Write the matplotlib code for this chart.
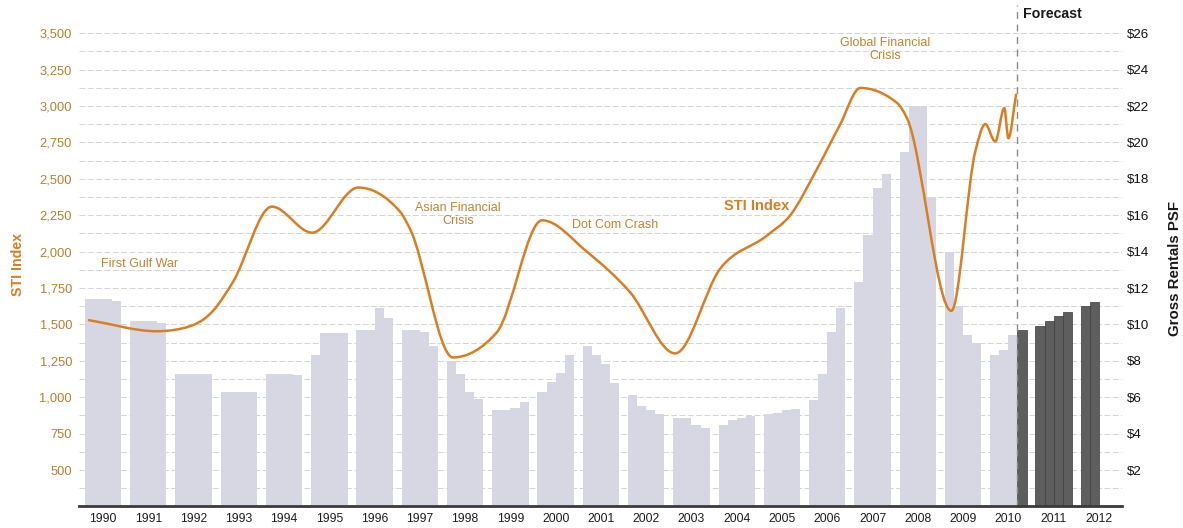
import matplotlib
matplotlib.use('Agg')
import matplotlib.pyplot as plt
from matplotlib.path import Path
from matplotlib.patches import PathPatch
from matplotlib.transforms import blended_transform_factory
import numpy as np

plt.rcParams['font.family'] = ['Liberation Sans', 'DejaVu Sans']

# Quarterly gross rentals ($ psf), one list per year
years = list(range(1990, 2013))
rentals = {
    1990: [11.4, 11.4, 11.4, 11.3],
    1991: [10.2, 10.2, 10.2, 10.1],
    1992: [7.3, 7.3, 7.3, 7.3],
    1993: [6.3, 6.3, 6.3, 6.3],
    1994: [7.3, 7.3, 7.3, 7.2],
    1995: [8.3, 9.55, 9.55, 9.55],
    1996: [9.7, 9.7, 10.9, 10.35],
    1997: [9.7, 9.7, 9.6, 8.8],
    1998: [8.0, 7.3, 6.3, 5.9],
    1999: [5.3, 5.3, 5.4, 5.75],
    2000: [6.3, 6.85, 7.35, 8.3],
    2001: [8.8, 8.3, 7.8, 6.8],
    2002: [6.1, 5.5, 5.3, 5.1],
    2003: [4.85, 4.85, 4.5, 4.3],
    2004: [4.5, 4.75, 4.85, 4.95],
    2005: [5.1, 5.15, 5.3, 5.35],
    2006: [5.85, 7.3, 9.6, 10.9],
    2007: [12.35, 14.9, 17.5, 18.25],
    2008: [19.5, 22.0, 22.0, 17.0],
    2009: [14.0, 11.0, 9.4, 9.0],
    2010: [8.3, 8.6, 9.4, 9.7],
    2011: [9.9, 10.2, 10.45, 10.7],
    2012: [11.0, 11.25],
}
# first forecast quarter (year, quarter index)
forecast_start = (2010, 3)

# STI index points
sti_x = [1989.69, 1991.19, 1991.77, 1992.43, 1992.87, 1993.73, 1994.62, 1995.64,
         1996.56, 1996.78, 1997.73, 1998.70, 1999.70, 2000.69, 2001.64, 2002.64,
         2003.63, 2004.67, 2005.18, 2005.78, 2006.28, 2006.73, 2007.54, 2007.76,
         2008.74, 2009.27, 2009.49, 2009.71, 2009.91, 2010.00, 2010.17]
sti_y = [1529, 1453, 1474, 1593, 1791, 2309, 2130, 2440,
         2275, 2157, 1273, 1446, 2215, 1999, 1722, 1301,
         1881, 2111, 2249, 2572, 2871, 3124, 3021, 2917,
         1593, 2689, 2876, 2756, 2986, 2779, 3078]

left_ticks = list(range(500, 3501, 250))
right_ticks = list(range(2, 27, 2))

bar_light = '#d7d7e4'
bar_dark = '#5e5e5e'
orange = '#d97e22'
text_orange = '#bf8535'

fig = plt.figure(figsize=(11.83, 5.28), dpi=100)
ax = fig.add_axes([79 / 1183, 1 - 506.4 / 528, (1122 - 79) / 1183, 501.4 / 528])
ax2 = ax.twinx()

qw = 0.201
for yr in years:
    for q, val in enumerate(rentals[yr]):
        xpos = yr + (q - 1.5) * qw
        is_fc = (yr, q) >= forecast_start
        ax.bar(xpos, val, width=qw, color=bar_dark if is_fc else bar_light,
               edgecolor='#3c3c3c' if is_fc else 'none', linewidth=0.5, zorder=2)

for lvl in range(1, 27):
    ax.axhline(lvl, color='#cdcdcd', lw=0.6, linestyle=(0, (7, 3)), zorder=0)

ymax = 27.55
ax.set_ylim(0, ymax)
ax.set_xlim(1989.47, 2012.51)
ax2.set_ylim(250, 250 + ymax * 125)

# smooth STI line: monotone cubic (Steffen) drawn as Bezier segments
xs = np.array(sti_x, float)
ys = np.array(sti_y, float)
h = np.diff(xs)
s = np.diff(ys) / h
m = np.zeros_like(xs)
for k in range(1, len(xs) - 1):
    p = (s[k - 1] * h[k] + s[k] * h[k - 1]) / (h[k - 1] + h[k])
    m[k] = (np.sign(s[k - 1]) + np.sign(s[k])) * min(abs(s[k - 1]), abs(s[k]), 0.5 * abs(p))
m[0] = s[0]
m[-1] = s[-1]
verts = [(xs[0], ys[0])]
codes = [Path.MOVETO]
for k in range(len(xs) - 1):
    d = h[k] / 3
    verts += [(xs[k] + d, ys[k] + m[k] * d), (xs[k + 1] - d, ys[k + 1] - m[k + 1] * d),
              (xs[k + 1], ys[k + 1])]
    codes += [Path.CURVE4] * 3
ax2.add_patch(PathPatch(Path(verts, codes), facecolor='none', edgecolor=orange,
                        lw=1.8, zorder=5, capstyle='round', joinstyle='round'))

# forecast divider
ax.axvline(2010.2, color='#8a8a8a', lw=1, linestyle=(0, (5, 4)), zorder=3)
trans = blended_transform_factory(ax.transData, ax.transAxes)
ax.text(2010.33, 0.982, 'Forecast', transform=trans, fontsize=10.2,
        fontweight='bold', color='#1a1a1a', ha='left', va='center')

# annotations
ax2.text(1990.80, 1916, 'First Gulf War', fontsize=9, color=text_orange, ha='center', va='center')
ax2.text(1997.84, 2254, 'Asian Financial\nCrisis', fontsize=9, color=text_orange,
         ha='center', va='center', linespacing=1.05)
ax2.text(2001.31, 2185, 'Dot Com Crash', fontsize=9, color=text_orange, ha='center', va='center')
ax2.text(2004.43, 2316, 'STI Index', fontsize=10.5, fontweight='bold', color=orange,
         ha='center', va='center')
ax2.text(2007.28, 3387, 'Global Financial\nCrisis', fontsize=9, color=text_orange,
         ha='center', va='center', linespacing=1.05)

# axes styling
ax.set_xticks(years)
ax.set_xticklabels([str(y) for y in years], fontsize=8.8, color='#1e1e1e')
ax.tick_params(axis='x', length=0, pad=5)
ax.yaxis.tick_right()
ax.set_yticks(right_ticks)
ax.set_yticklabels([f'${v}' for v in right_ticks], fontsize=9.6, color='#111111')
ax.tick_params(axis='y', length=0, pad=3.6)

ax2.yaxis.tick_left()
ax2.set_yticks(left_ticks)
ax2.set_yticklabels([f'{v:,}' for v in left_ticks], fontsize=9.3, color='#b3812f')
ax2.tick_params(axis='y', length=0, pad=5)

for a in (ax, ax2):
    for sp in ('top', 'left', 'right'):
        a.spines[sp].set_visible(False)
ax2.spines['bottom'].set_visible(False)
ax.spines['bottom'].set_linewidth(2)
ax.spines['bottom'].set_color('#3a3a3a')
ax.spines['bottom'].set_zorder(6)

fig.text(18 / 1183, 1 - 265 / 528, 'STI Index', rotation=90, fontsize=10.2,
         fontweight='bold', color=orange, ha='center', va='center')
fig.text(1175 / 1183, 1 - 268 / 528, 'Gross Rentals PSF', rotation=90, fontsize=10.8,
         fontweight='bold', color='#1a1a1a', ha='center', va='center')

fig.savefig('out.png', dpi=100)
